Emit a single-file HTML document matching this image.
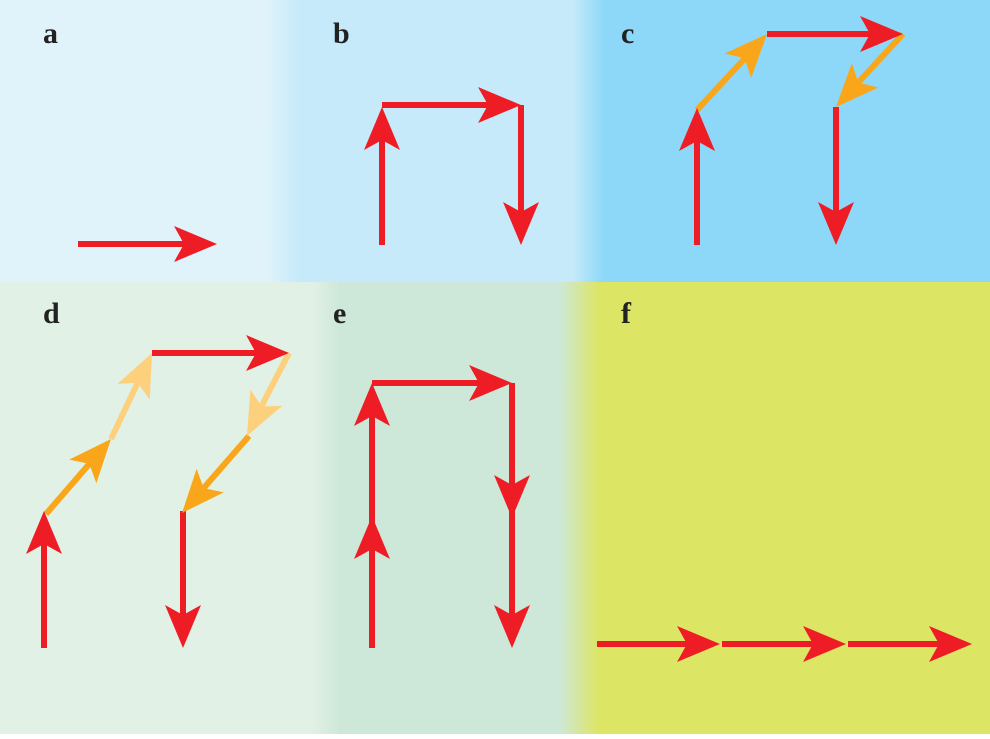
<!DOCTYPE html>
<html><head><meta charset="utf-8"><style>
html,body{margin:0;padding:0;}
body{width:990px;height:734px;overflow:hidden;}
</style></head><body>
<svg width="990" height="734" viewBox="0 0 990 734" xmlns="http://www.w3.org/2000/svg">
<defs>
<linearGradient id="top" x1="0" x2="990" y1="0" y2="0" gradientUnits="userSpaceOnUse">
<stop offset="0" stop-color="#e0f3fb"/>
<stop offset="0.268" stop-color="#e0f3fb"/>
<stop offset="0.303" stop-color="#c6eaf9"/>
<stop offset="0.578" stop-color="#c6eaf9"/>
<stop offset="0.61" stop-color="#8dd8f8"/>
<stop offset="1" stop-color="#8dd8f8"/>
</linearGradient>
<linearGradient id="bot" x1="0" x2="990" y1="0" y2="0" gradientUnits="userSpaceOnUse">
<stop offset="0" stop-color="#e2f1e6"/>
<stop offset="0.315" stop-color="#e2f1e6"/>
<stop offset="0.343" stop-color="#cde8d8"/>
<stop offset="0.565" stop-color="#cde8d8"/>
<stop offset="0.605" stop-color="#dde564"/>
<stop offset="1" stop-color="#dde564"/>
</linearGradient>
<path id="h" d="M0,0 L-43,-18 L-33,0 L-43,18 Z"/>
</defs>
<rect x="0" y="0" width="990" height="282" fill="url(#top)"/>
<rect x="0" y="282" width="990" height="452" fill="url(#bot)"/>
<g font-family="Liberation Serif, serif" font-weight="bold" font-size="30" fill="#222">
<text x="43" y="43">a</text><text x="333" y="43">b</text><text x="621" y="43">c</text>
<text x="43" y="323">d</text><text x="333" y="323">e</text><text x="621" y="323">f</text>
</g>
<g stroke-width="6" fill="none">
<!-- a -->
<line x1="78" y1="244" x2="187" y2="244" stroke="#ee1c25"/>
<!-- b -->
<line x1="382" y1="245" x2="382" y2="137" stroke="#ee1c25"/>
<line x1="382" y1="105" x2="491" y2="105" stroke="#ee1c25"/>
<line x1="521" y1="105" x2="521" y2="215" stroke="#ee1c25"/>
<!-- c -->
<line x1="697" y1="245" x2="697" y2="138" stroke="#ee1c25"/>
<line x1="697" y1="110" x2="747" y2="56" stroke="#f9a61a"/>
<line x1="767" y1="34" x2="873" y2="34" stroke="#ee1c25"/>
<line x1="903" y1="34" x2="856" y2="85" stroke="#f9a61a"/>
<line x1="836" y1="107" x2="836" y2="215" stroke="#ee1c25"/>
<!-- d -->
<line x1="44" y1="648" x2="44" y2="541" stroke="#ee1c25"/>
<line x1="46" y1="514" x2="91" y2="462" stroke="#f9a61a"/>
<line x1="111" y1="439" x2="139" y2="380" stroke="#fdd07e"/>
<line x1="152" y1="353" x2="259" y2="353" stroke="#ee1c25"/>
<line x1="289" y1="353" x2="260" y2="409" stroke="#fdd07e"/>
<line x1="249" y1="436" x2="202" y2="490" stroke="#f9a61a"/>
<line x1="183" y1="511" x2="183" y2="618" stroke="#ee1c25"/>
<!-- e -->
<line x1="372" y1="648" x2="372" y2="413" stroke="#ee1c25"/>
<line x1="372" y1="383" x2="482" y2="383" stroke="#ee1c25"/>
<line x1="512" y1="383" x2="512" y2="618" stroke="#ee1c25"/>
<!-- f -->
<line x1="597" y1="644" x2="690" y2="644" stroke="#ee1c25"/>
<line x1="722" y1="644" x2="816" y2="644" stroke="#ee1c25"/>
<line x1="848" y1="644" x2="942" y2="644" stroke="#ee1c25"/>
</g>
<g fill="#ee1c25">
<use href="#h" transform="translate(217,244)"/>
<use href="#h" transform="translate(382,107) rotate(-90)"/>
<use href="#h" transform="translate(521,105)"/>
<use href="#h" transform="translate(521,245) rotate(90)"/>
<use href="#h" transform="translate(697,108) rotate(-90)"/>
<use href="#h" transform="translate(903,34)"/>
<use href="#h" transform="translate(836,245) rotate(90)"/>
<use href="#h" transform="translate(44,511) rotate(-90)"/>
<use href="#h" transform="translate(289,353)"/>
<use href="#h" transform="translate(183,648) rotate(90)"/>
<use href="#h" transform="translate(372,516) rotate(-90)"/>
<use href="#h" transform="translate(372,383) rotate(-90)"/>
<use href="#h" transform="translate(512,383)"/>
<use href="#h" transform="translate(512,518) rotate(90)"/>
<use href="#h" transform="translate(512,648) rotate(90)"/>
<use href="#h" transform="translate(720,644)"/>
<use href="#h" transform="translate(846,644)"/>
<use href="#h" transform="translate(972,644)"/>
</g>
<g fill="#f9a61a">
<use href="#h" transform="translate(767,34) rotate(-47.4)"/>
<use href="#h" transform="translate(836,107) rotate(132.5)"/>
<use href="#h" transform="translate(111,439) rotate(-49)"/>
<use href="#h" transform="translate(182,513) rotate(131)"/>
</g>
<g fill="#fdd07e">
<use href="#h" transform="translate(152,353) rotate(-64.5)"/>
<use href="#h" transform="translate(247,436) rotate(116.8)"/>
</g>
</svg>
</body></html>
